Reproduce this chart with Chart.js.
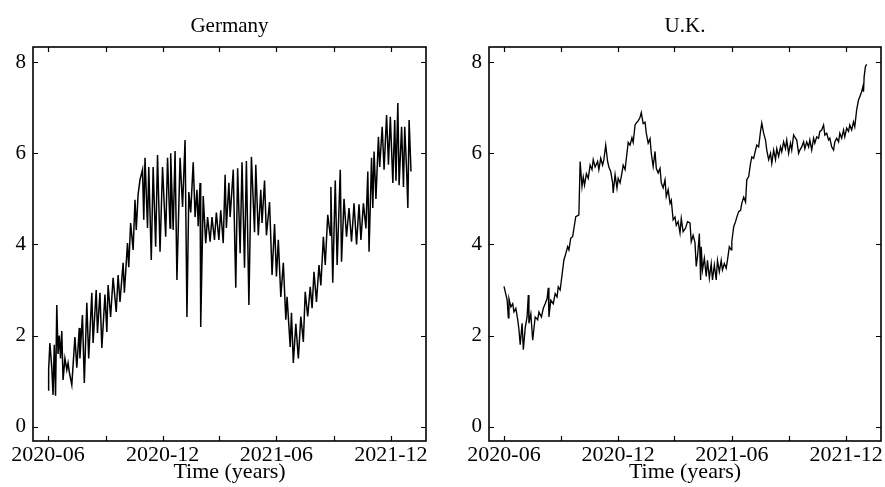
<!DOCTYPE html>
<html>
<head>
<meta charset="utf-8">
<script src="https://cdn.jsdelivr.net/npm/chart.js@4/dist/chart.umd.min.js"></script>
<style>
  html, body { margin: 0; padding: 0; background: #fff; }
  #wrap { position: relative; width: 885px; height: 487px; overflow: hidden; }
  canvas { position: absolute; top: 0; }
</style>
</head>
<body>
<div id="wrap">
  <canvas id="de" width="442" height="487" style="left:0px"></canvas>
  <canvas id="uk" width="443" height="487" style="left:442px"></canvas>
</div>
<script>
// Days are counted from 2020-06-01.
const deDays = [0,1,3,6,8,10,12,14,16,18,20,22,24,27,30,32,34,38,43,46,50,51,55,58,62,65,70,72,77,79,83,86,91,94,96,100,104,109,112,115,120,122,127,129,132,136,139,141,144,147,151,153,155,159,161,165,168,172,175,179,183,188,191,195,196,200,203,206,211,215,219,222,225,228,232,235,238,240,243,244,248,252,255,259,262,266,269,273,276,280,283,285,289,291,296,300,303,307,310,314,317,321,325,330,332,336,340,342,346,349,354,358,362,365,368,372,376,380,382,387,389,392,396,400,404,408,411,415,419,422,425,429,433,436,440,443,447,451,452,455,459,462,467,469,473,477,481,485,489,493,497,500,504,508,511,513,517,519,521,524,528,530,534,537,541,544,547,551,554,556,559,561,565,568,570,573,575,577,580];
const deValues = [0.81,1.25,1.84,1.3,0.70,1.8,0.68,2.67,1.6,2.0,1.5,2.1,1.03,1.5,1.25,1.4,1.2,0.92,1.97,1.3,2.17,1.5,2.45,0.96,2.72,1.5,2.94,1.84,3.0,2.06,2.94,1.73,2.9,2.08,3.11,2.41,3.27,2.52,3.33,2.74,3.6,2.94,4.03,3.5,4.47,3.88,4.98,4.32,5.1,5.42,5.64,4.54,5.9,4.36,5.7,3.66,5.7,3.95,5.96,3.84,5.7,4.17,5.9,4.36,6.0,4.32,6.05,3.22,5.9,4.82,6.29,2.41,5.15,4.7,5.8,4.6,5.2,4.4,5.35,2.19,5.06,4.03,4.6,4.06,4.6,4.1,4.7,4.1,4.75,4.03,5.53,4.36,5.35,4.6,5.64,3.05,5.67,3.81,5.8,3.49,5.83,2.67,5.92,4.27,5.75,4.2,5.2,4.47,5.4,4.2,4.93,3.33,4.45,3.3,4.1,2.85,3.6,2.35,2.85,1.75,2.5,1.4,2.26,1.5,2.42,1.86,2.96,2.42,3.07,2.6,3.4,2.74,3.55,3.1,4.17,3.55,4.65,4.2,5.26,3.16,5.4,3.55,5.64,3.62,5.0,4.17,4.8,4.06,4.9,4.0,4.88,4.1,4.9,4.35,5.6,3.84,5.9,4.8,6.04,5.0,6.36,5.7,6.58,5.64,6.84,5.75,6.8,5.35,6.73,5.4,7.1,5.3,6.58,5.26,6.58,5.64,4.8,6.73,5.6];

const ukDays = [0,5,7,8,11,14,16,19,22,24,26,29,31,34,37,39,40,43,46,50,54,56,60,63,66,69,71,72,75,79,82,85,87,90,93,96,99,102,104,107,110,112,115,118,120,122,125,127,129,132,135,138,141,143,146,150,152,155,158,160,163,166,168,171,174,175,178,181,183,186,189,191,194,197,199,202,205,207,210,213,215,218,220,223,226,228,231,234,236,239,242,244,247,250,252,255,258,260,263,266,268,271,274,276,279,282,284,287,291,294,298,300,303,306,308,310,313,315,316,318,321,324,326,329,332,334,337,340,342,345,348,350,353,356,358,361,364,365,368,371,373,376,379,381,384,387,389,392,395,397,400,403,405,408,411,413,416,419,421,424,427,429,432,435,437,440,443,445,448,451,453,456,459,461,464,467,469,472,474,477,480,482,485,488,490,493,496,498,501,504,506,509,512,514,517,520,522,525,528,530,533,536,538,541,544,546,549,552,554,557,560,562,565,568,570,573,575,576,577,579,581];
const ukValues = [3.08,2.79,2.39,2.81,2.63,2.7,2.52,2.6,2.35,2.13,1.8,2.27,1.69,2.17,2.41,2.89,2.27,2.48,1.9,2.41,2.35,2.52,2.41,2.6,2.7,2.81,3.05,2.41,2.78,2.7,2.92,2.85,3.07,3.0,3.33,3.66,3.8,3.95,3.88,4.14,4.17,4.35,4.61,4.63,4.65,5.82,5.27,5.48,5.3,5.55,5.45,5.74,5.64,5.86,5.7,5.82,5.64,5.89,5.74,5.86,6.18,5.82,5.7,5.6,5.35,5.13,5.53,5.24,5.45,5.35,5.57,5.74,5.64,6.0,6.24,6.18,6.34,6.24,6.62,6.68,6.71,6.79,6.89,6.65,6.68,6.44,6.22,6.32,6.0,5.71,6.04,5.67,5.57,5.67,5.35,5.24,5.42,5.05,5.2,4.9,4.97,4.54,4.6,4.42,4.5,4.25,4.57,4.28,4.36,4.5,4.47,4.06,4.2,4.04,3.52,3.73,4.24,3.22,3.95,3.44,3.7,3.3,3.65,3.26,3.58,3.22,3.55,3.22,3.65,3.4,3.65,3.44,3.58,3.48,3.65,3.95,3.88,4.06,4.39,4.5,4.6,4.72,4.75,4.9,5.04,4.93,5.42,5.49,5.78,5.92,5.89,6.07,6.18,6.14,6.48,6.66,6.44,6.29,6.07,5.86,6.0,5.78,6.07,5.86,6.1,5.93,6.14,6.03,6.25,6.1,6.29,6.0,6.22,6.07,6.4,6.33,6.29,6.0,6.07,6.14,6.25,6.1,6.25,6.14,6.29,6.07,6.33,6.22,6.36,6.33,6.48,6.51,6.62,6.4,6.44,6.29,6.33,6.14,6.07,6.25,6.33,6.25,6.44,6.33,6.51,6.36,6.55,6.48,6.62,6.51,6.69,6.58,6.95,7.17,7.24,7.35,7.46,7.35,7.68,7.9,7.95];

// Quarterly ticks (day offsets of 2020-06, 2020-09, ... 2021-12); only half-yearly ones carry labels.
const xTickDays = [0, 92, 183, 273, 365, 457, 548];
const xTickLabels = ['2020-06', '', '2020-12', '', '2021-06', '', '2021-12'];
const yTicks = [0, 2, 4, 6, 8];

const SERIF = '"Liberation Serif", "Times New Roman", serif';

// Box frame, inward tick marks on all four sides, and the panel heading.
const framePlugin = {
  id: 'frame',
  afterDraw(chart, args, opts) {
    const { ctx, chartArea: a, scales: { x, y } } = chart;
    ctx.save();
    ctx.strokeStyle = '#000';
    ctx.lineWidth = 1.6;
    ctx.strokeRect(a.left, a.top, a.right - a.left, a.bottom - a.top);
    ctx.lineWidth = 1.2;
    ctx.beginPath();
    x.ticks.forEach(t => {
      const px = Math.round(x.getPixelForValue(t.value)) + 0.5;
      ctx.moveTo(px, a.bottom); ctx.lineTo(px, a.bottom - 5);
      ctx.moveTo(px, a.top); ctx.lineTo(px, a.top + 5);
    });
    y.ticks.forEach(t => {
      const py = Math.round(y.getPixelForValue(t.value)) + 0.5;
      ctx.moveTo(a.left, py); ctx.lineTo(a.left + 5, py);
      ctx.moveTo(a.right, py); ctx.lineTo(a.right - 5, py);
    });
    ctx.stroke();
    ctx.fillStyle = '#000';
    ctx.font = '21px ' + SERIF;
    ctx.textAlign = 'center';
    ctx.textBaseline = 'middle';
    ctx.fillText(opts.text, (a.left + a.right) / 2, 26);
    ctx.restore();
  }
};

function makePanel(id, heading, days, values, yAxisWidth, rightPad, lineWidth) {
  return new Chart(document.getElementById(id), {
    type: 'line',
    data: {
      datasets: [{
        data: days.map((d, i) => ({ x: d, y: values[i] })),
        borderColor: '#000',
        borderWidth: lineWidth,
        pointRadius: 0,
        tension: 0,
        fill: false
      }]
    },
    options: {
      responsive: false,
      animation: false,
      layout: { padding: { top: 47, left: 0, right: rightPad, bottom: 0 } },
      plugins: {
        legend: { display: false },
        tooltip: { enabled: false },
        frame: { text: heading }
      },
      scales: {
        x: {
          type: 'linear',
          min: -24,
          max: 604,
          grid: { display: false, drawTicks: false },
          border: { display: false },
          afterBuildTicks: s => { s.ticks = xTickDays.map(v => ({ value: v })); },
          afterFit: s => { s.height = 46; },
          ticks: {
            autoSkip: false,
            maxRotation: 0,
            padding: 1,
            color: '#000',
            font: { family: SERIF, size: 22 },
            callback: v => xTickLabels[xTickDays.indexOf(v)] ?? ''
          },
          title: {
            display: true,
            text: 'Time (years)',
            color: '#000',
            font: { family: SERIF, size: 22 },
            padding: { top: 0, bottom: 2 }
          }
        },
        y: {
          min: -0.31,
          max: 8.33,
          grid: { display: false, drawTicks: false },
          border: { display: false },
          afterBuildTicks: s => { s.ticks = yTicks.map(v => ({ value: v })); },
          afterFit: s => { s.width = yAxisWidth; },
          ticks: {
            padding: 7,
            color: '#000',
            font: { family: SERIF, size: 21 }
          }
        }
      }
    },
    plugins: [framePlugin]
  });
}

makePanel('de', 'Germany', deDays, deValues, 33, 16, 1.5);
makePanel('uk', 'U.K.', ukDays, ukValues, 47, 4, 1.35);
</script>
</body>
</html>
